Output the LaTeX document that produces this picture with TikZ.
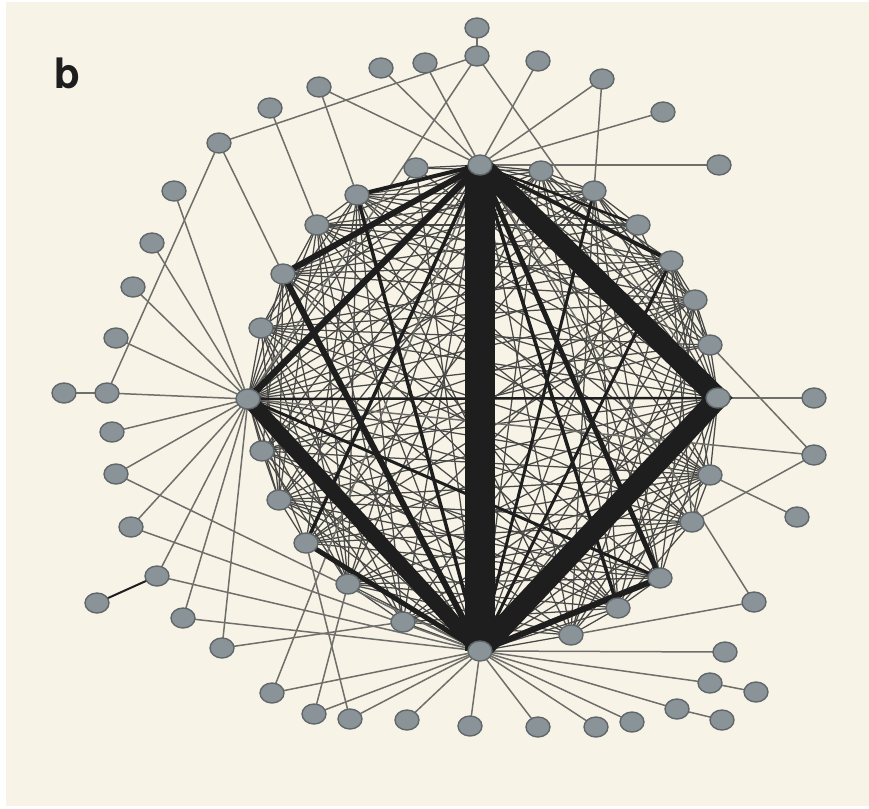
\documentclass[tikz,border=0pt]{standalone}
\usepackage{fontspec}
\setsansfont{TeX Gyre Heros}
\usetikzlibrary{shapes.geometric}
\pgfdeclarelayer{bg}
\pgfsetlayers{bg,main}
\definecolor{cream}{HTML}{F8F3E7}
\definecolor{nodefill}{HTML}{8A9498}
\definecolor{nodeedge}{HTML}{60676A}
\definecolor{periline}{HTML}{6E6E6A}
\definecolor{meshline}{HTML}{484846}
\definecolor{heavyline}{HTML}{1E1E1E}
\begin{document}
\begin{tikzpicture}[x=1pt,y=-1pt,
  nd/.style={ellipse, fill=nodefill, draw=nodeedge, line width=1.4pt, minimum width=24pt, minimum height=20pt, inner sep=0pt},
  periph/.style={draw=periline, line width=1.5pt},
  mesh/.style={draw=meshline, line width=1.25pt},
  heavy/.style={draw=heavyline},
  labeltext/.style={font=\sffamily\bfseries\fontsize{42}{42}\selectfont, text=heavyline, inner sep=0pt}]
\useasboundingbox (0,0) rectangle (869,808);
% hubs
\node[nd] (T) at (480,165) {};
\node[nd] (B) at (480,651) {};
\node[nd] (L) at (248,399) {};
\node[nd] (R) at (718,398) {};
% ring
\node[nd] (r1) at (416,168) {};
\node[nd] (r2) at (541,171) {};
\node[nd] (r3) at (357,195) {};
\node[nd] (r4) at (594,191) {};
\node[nd] (r5) at (317,225) {};
\node[nd] (r6) at (638,225) {};
\node[nd] (r7) at (283,274) {};
\node[nd] (r8) at (671,261) {};
\node[nd] (r9) at (695,300) {};
\node[nd] (r10) at (261,328) {};
\node[nd] (r11) at (710,345) {};
\node[nd] (r12) at (262,451) {};
\node[nd] (r13) at (710,475) {};
\node[nd] (r14) at (279,500) {};
\node[nd] (r15) at (692,522) {};
\node[nd] (r16) at (306,543) {};
\node[nd] (r17) at (660,578) {};
\node[nd] (r18) at (348,584) {};
\node[nd] (r19) at (618,608) {};
\node[nd] (r20) at (403,622) {};
\node[nd] (r21) at (571,635) {};
% outer
\node[nd] (o1) at (477,28) {};
\node[nd] (o2) at (477,56) {};
\node[nd] (o3) at (425,63) {};
\node[nd] (o4) at (381,68) {};
\node[nd] (o5) at (538,61) {};
\node[nd] (o6) at (602,79) {};
\node[nd] (o7) at (663,112) {};
\node[nd] (o8) at (719,165) {};
\node[nd] (o9) at (319,87) {};
\node[nd] (o10) at (270,108) {};
\node[nd] (o11) at (219,143) {};
\node[nd] (o12) at (174,191) {};
\node[nd] (o13) at (152,243) {};
\node[nd] (o14) at (133,287) {};
\node[nd] (o15) at (116,338) {};
\node[nd] (o16) at (64,393) {};
\node[nd] (o17) at (107,393) {};
\node[nd] (o18) at (112,432) {};
\node[nd] (o19) at (116,474) {};
\node[nd] (o20) at (131,527) {};
\node[nd] (o21) at (157,576) {};
\node[nd] (o22) at (97,603) {};
\node[nd] (o23) at (183,618) {};
\node[nd] (o24) at (222,648) {};
\node[nd] (o25) at (272,693) {};
\node[nd] (o26) at (314,714) {};
\node[nd] (o27) at (350,719) {};
\node[nd] (o28) at (407,720) {};
\node[nd] (o29) at (470,726) {};
\node[nd] (o30) at (538,727) {};
\node[nd] (o31) at (596,727) {};
\node[nd] (o32) at (632,722) {};
\node[nd] (o33) at (677,709) {};
\node[nd] (o34) at (722,720) {};
\node[nd] (o35) at (710,683) {};
\node[nd] (o36) at (756,692) {};
\node[nd] (o37) at (725,652) {};
\node[nd] (o38) at (754,602) {};
\node[nd] (o39) at (797,517) {};
\node[nd] (o40) at (814,455) {};
\node[nd] (o41) at (814,398) {};
\node[labeltext, anchor=base west] (lab) at (54,88) {b};
\begin{pgfonlayer}{bg}
\fill[white] (0,0) rectangle (869,808);
\fill[cream] (6,2) rectangle (869,806);
% dense inner mesh: hubs to everything, ring nodes to a subset
\def\innerlist{T,B,L,R,r1,r2,r3,r4,r5,r6,r7,r8,r9,r10,r11,r12,r13,r14,r15,r16,r17,r18,r19,r20,r21}
\foreach \a [count=\i] in \innerlist {
  \foreach \b [count=\j] in \innerlist {
    \ifnum\j>\i
      \pgfmathtruncatemacro\k{mod(\i*\i+\j*5+\i*\j,5)}
      \ifnum\i<5 \def\k{9}\fi
      \ifnum\j=\numexpr\i+1\relax \def\k{9}\fi
      \ifnum\k<2 \else \draw[mesh] (\a.center) -- (\b.center); \fi
    \fi
  }
}
% peripheral edges
\foreach \a/\b in {o1/o2, o2/o11, o2/L, o2/R, o3/T, o4/T, o5/T, o6/T, o6/r4, o7/T, o8/T,
  o9/T, o9/r3, o10/r5, o11/r7, o11/o17, o12/L, o13/L, o14/L, o15/L, o16/o17, o17/L,
  o18/L, o19/L, o19/B, o20/L, o20/B, o21/L, o21/B, o23/L, o23/B, o24/L, o24/r20,
  o25/T, o25/B, o26/r18, o26/B, o27/r16, o27/B, o28/B, o29/B, o30/B, o31/B, o32/B,
  o33/B, o33/o34, o35/B, o35/o36, o37/B, o38/r21, o38/T, o39/r13, o40/r11, o40/r15,
  o40/L, o41/R}
  \draw[periph] (\a.center) -- (\b.center);
\draw[draw=heavyline, line width=2pt] (o21.center) -- (o22.center);
% heavier inner edges
\foreach \a/\b/\w in {L/R/2.5, T/r6/2.5, r4/B/3, r8/B/3, L/r17/3, T/r19/3.5,
  T/r16/3.5, r3/B/3.5, T/r3/4, T/r8/4, r16/B/5, T/r17/5, r17/B/6, T/r7/6, r7/B/6,
  L/T/6.5, L/B/15, T/B/30}
  \draw[heavy, line width=\w pt] (\a.center) -- (\b.center);
\draw[heavy, line width=21pt, line join=miter] (T.center) -- (R.center) -- (B.center);
\end{pgfonlayer}
\end{tikzpicture}
\end{document}
